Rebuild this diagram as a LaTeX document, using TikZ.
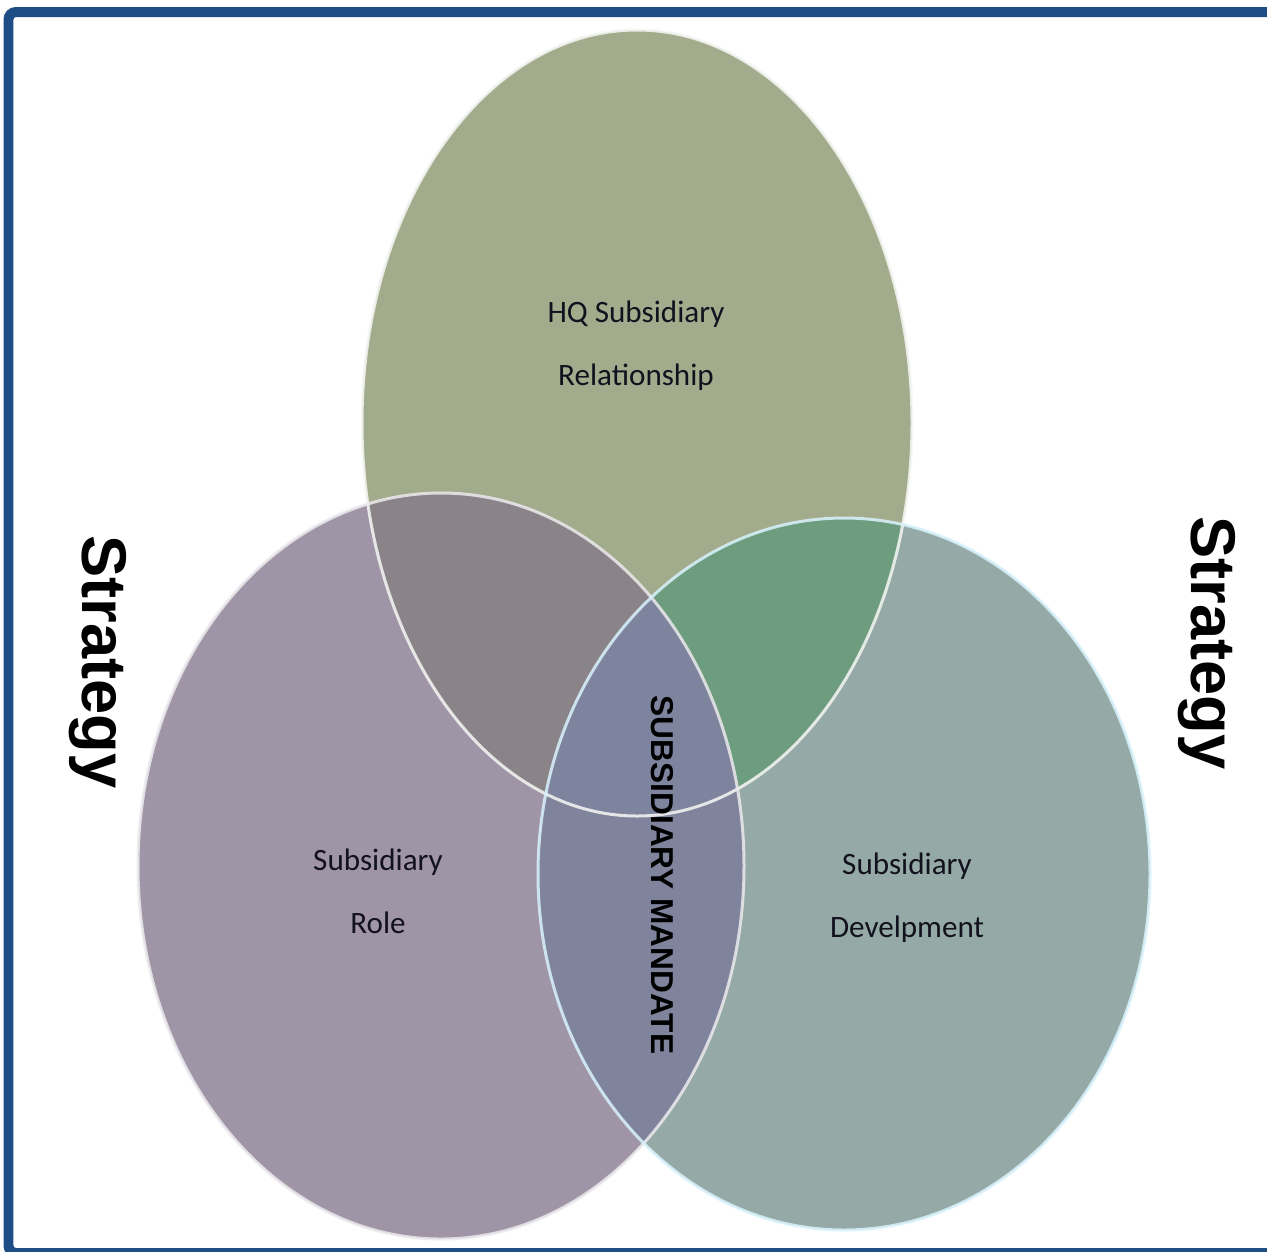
\documentclass[tikz,border=0pt]{standalone}
\usepackage{fontspec}
\setmainfont{Carlito}
\newfontfamily\arialfont{Liberation Sans}
\definecolor{framecol}{HTML}{1F4E86}
\definecolor{hqcol}{HTML}{A3AB8D}
\definecolor{rolecol}{HTML}{9F95A7}
\definecolor{devcol}{HTML}{95AAA6}
\definecolor{hqrole}{HTML}{8A8489}
\definecolor{hqdev}{HTML}{6E9C7E}
\definecolor{roledev}{HTML}{7F849C}
\definecolor{allcol}{HTML}{7E849E}
\definecolor{textcol}{HTML}{12121E}

\begin{document}
\begin{tikzpicture}[x=0.02cm,y=-0.02cm,
  circlabel/.style={font=\fontsize{17.7}{36}\selectfont,text=textcol,align=center},
  sidelabel/.style={font=\arialfont\bfseries\fontsize{36}{40}\selectfont,rotate=-90},
  rim/.style={line width=0.06cm,opacity=0.85}]
\useasboundingbox (0,0) rectangle (1267,1251);
\fill[white] (0,0) rectangle (1267,1251);
\draw[framecol,line width=0.2cm,rounded corners=0.15cm] (8.5,12) rectangle (1280,1253);

% the three sets
\fill[hqcol] (637,423) ellipse [x radius=275, y radius=393];
\fill[rolecol] (441,866) ellipse [x radius=303, y radius=373];
\fill[devcol] (844,874) ellipse [x radius=306, y radius=356];
\begin{scope}
\clip (637,423) ellipse [x radius=275, y radius=393];
\fill[hqrole] (441,866) ellipse [x radius=303, y radius=373];
\fill[hqdev] (844,874) ellipse [x radius=306, y radius=356];
\end{scope}
\begin{scope}
\clip (441,866) ellipse [x radius=303, y radius=373];
\fill[roledev] (844,874) ellipse [x radius=306, y radius=356];
\clip (637,423) ellipse [x radius=275, y radius=393];
\fill[allcol] (844,874) ellipse [x radius=306, y radius=356];
\end{scope}
\draw[rim,color=white!90!hqcol] (637,423) ellipse [x radius=275, y radius=393];
\draw[rim,color=white!80!rolecol] (441,866) ellipse [x radius=303, y radius=373];
\draw[rim,color=white!85!cyan] (844,874) ellipse [x radius=306, y radius=356];

\node[circlabel] (hq) at (636,346) {HQ Subsidiary\\Relationship};
\node[circlabel] (role) at (378,891) {Subsidiary\\Role};
\node[circlabel] (dev) at (907,898) {Subsidiary\\Develpment};
\node[font=\arialfont\bfseries\fontsize{18}{20}\selectfont,rotate=-90] (mandate) at (662,875) {SUBSIDIARY MANDATE};
\node[sidelabel] (stratl) at (98,662) {Strategy};
\node[sidelabel] (stratr) at (1207,643) {Strategy};
\end{tikzpicture}
\end{document}
